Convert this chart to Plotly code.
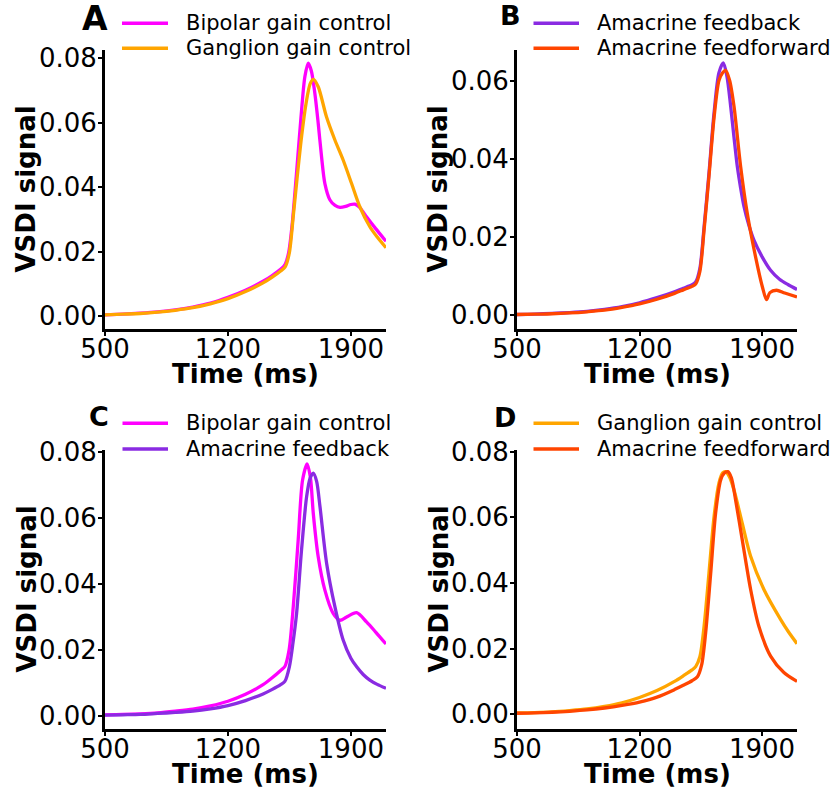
import plotly.graph_objects as go

# ---------------- data ----------------
# Panel A
a_bip_t = [500, 600, 700, 800, 900, 1000, 1100, 1200, 1300, 1400, 1450, 1500, 1525, 1545, 1565, 1590, 1615,
           1638, 1657, 1675, 1695, 1714, 1733, 1752, 1781, 1810, 1838, 1870, 1900, 1923, 1950, 1989, 2040, 2100]
a_bip_v = [0.0004, 0.0006, 0.0009, 0.0013, 0.0019, 0.0028, 0.0040, 0.0058, 0.0080, 0.0108, 0.0125, 0.0145,
           0.0160, 0.0195, 0.0280, 0.0440, 0.0610, 0.0742, 0.0784, 0.0760, 0.0690, 0.0598, 0.0494, 0.0411,
           0.0360, 0.0343, 0.0337, 0.0340, 0.0346, 0.0347, 0.0337, 0.0308, 0.0272, 0.0232]
a_gan_t = [500, 600, 700, 800, 900, 1000, 1100, 1200, 1300, 1400, 1450, 1500, 1525, 1549, 1572, 1596, 1620,
           1645, 1668, 1686, 1714, 1761, 1809, 1856, 1904, 1951, 2008, 2050, 2100]
a_gan_v = [0.0004, 0.0006, 0.0008, 0.0012, 0.0018, 0.0026, 0.0038, 0.0054, 0.0076, 0.0103, 0.0120, 0.0140,
           0.0152, 0.0194, 0.0310, 0.0440, 0.0560, 0.0660, 0.0720, 0.0734, 0.0711, 0.0618, 0.0546, 0.0484,
           0.0411, 0.0339, 0.0277, 0.0245, 0.0212]

# Panel B
b_fb_t = [500, 600, 700, 800, 900, 1000, 1100, 1200, 1300, 1400, 1450, 1500, 1521, 1545, 1569, 1597, 1626,
          1654, 1679, 1700, 1721, 1740, 1759, 1778, 1797, 1825, 1854, 1900, 1949, 2000, 2050, 2100]
b_fb_v = [0.0002, 0.0003, 0.0005, 0.0007, 0.0010, 0.0015, 0.0022, 0.0032, 0.0045, 0.0060, 0.0069, 0.0078,
          0.0085, 0.0120, 0.0226, 0.0363, 0.0517, 0.0620, 0.0645, 0.0610, 0.0534, 0.0455, 0.0380, 0.0325,
          0.0278, 0.0230, 0.0192, 0.0150, 0.0115, 0.0092, 0.0078, 0.0066]
b_ff_t = [500, 600, 700, 800, 900, 1000, 1100, 1200, 1300, 1400, 1450, 1500, 1521, 1545, 1569, 1597, 1626,
          1654, 1675, 1692, 1715, 1740, 1778, 1816, 1863, 1902, 1926, 1945, 1983, 2030, 2100]
b_ff_v = [0.0002, 0.0003, 0.0004, 0.0006, 0.0009, 0.0013, 0.0020, 0.0029, 0.0041, 0.0056, 0.0065, 0.0074,
          0.0080, 0.0112, 0.0218, 0.0355, 0.0505, 0.0600, 0.0620, 0.0626, 0.0600, 0.0534, 0.0380, 0.0260,
          0.0150, 0.0073, 0.0040, 0.0058, 0.0064, 0.0057, 0.0047]

# Panel C
c_bip_t = [500, 600, 700, 800, 900, 1000, 1100, 1200, 1300, 1400, 1450, 1500, 1524, 1548, 1572, 1600, 1625,
           1651, 1670, 1686, 1714, 1752, 1799, 1838, 1876, 1933, 1989, 2040, 2100]
c_bip_v = [0.0004, 0.0005, 0.0007, 0.0010, 0.0015, 0.0021, 0.0031, 0.0045, 0.0066, 0.0095, 0.0115, 0.0138,
           0.0150, 0.0200, 0.0331, 0.0533, 0.0714, 0.0763, 0.0720, 0.0613, 0.0482, 0.0381, 0.0311, 0.0290,
           0.0300, 0.0313, 0.0285, 0.0255, 0.0218]
c_fb_t = [500, 600, 700, 800, 900, 1000, 1100, 1200, 1300, 1400, 1450, 1500, 1524, 1550, 1570, 1591, 1619,
          1648, 1668, 1686, 1705, 1724, 1762, 1809, 1856, 1900, 1933, 1970, 2008, 2050, 2100]
c_fb_v = [0.0003, 0.0004, 0.0005, 0.0008, 0.0011, 0.0015, 0.0022, 0.0032, 0.0047, 0.0067, 0.0080, 0.0095,
          0.0105, 0.0150, 0.0220, 0.0311, 0.0502, 0.0664, 0.0720, 0.0735, 0.0710, 0.0634, 0.0462, 0.0331,
          0.0230, 0.0175, 0.0149, 0.0126, 0.0109, 0.0096, 0.0084]

# Panel D
d_gan_t = [500, 600, 700, 800, 900, 1000, 1100, 1200, 1300, 1400, 1450, 1500, 1521, 1545, 1569, 1597, 1626,
           1654, 1675, 1692, 1715, 1740, 1787, 1835, 1911, 2006, 2050, 2100]
d_gan_v = [0.0004, 0.0005, 0.0007, 0.0011, 0.0016, 0.0024, 0.0035, 0.0051, 0.0072, 0.0100, 0.0117, 0.0135,
           0.0145, 0.0175, 0.0268, 0.0430, 0.0602, 0.0704, 0.0735, 0.0739, 0.0722, 0.0683, 0.0582, 0.0481,
           0.0380, 0.0289, 0.0252, 0.0215]
d_ff_t = [500, 600, 700, 800, 900, 1000, 1100, 1200, 1300, 1400, 1450, 1500, 1531, 1555, 1578, 1607, 1635,
          1664, 1685, 1705, 1725, 1749, 1787, 1835, 1882, 1949, 2025, 2100]
d_ff_v = [0.0003, 0.0004, 0.0006, 0.0009, 0.0013, 0.0019, 0.0027, 0.0037, 0.0052, 0.0075, 0.0088, 0.0102,
          0.0114, 0.0150, 0.0248, 0.0430, 0.0613, 0.0714, 0.0735, 0.0739, 0.0720, 0.0653, 0.0532, 0.0380,
          0.0268, 0.0177, 0.0127, 0.0100]

x_ticks = [500, 1200, 1900]
y_ticks_full = [0.00, 0.02, 0.04, 0.06, 0.08]
y_ticks_b = [0.00, 0.02, 0.04, 0.06]
panel_letters = ["A", "B", "C", "D"]
x_title = "Time (ms)"
y_title = "VSDI signal"

BIP, GAN, FB, FF = "Bipolar gain control", "Ganglion gain control", "Amacrine feedback", "Amacrine feedforward"
COL = {BIP: "#FF00FF", GAN: "#FFA500", FB: "#8A2BE2", FF: "#FF4500"}

panels = [
    [(BIP, a_bip_t, a_bip_v), (GAN, a_gan_t, a_gan_v)],
    [(FB, b_fb_t, b_fb_v), (FF, b_ff_t, b_ff_v)],
    [(BIP, c_bip_t, c_bip_v), (FB, c_fb_t, c_fb_v)],
    [(GAN, d_gan_t, d_gan_v), (FF, d_ff_t, d_ff_v)],
]

# ---------------- layout geometry (pixels of 833x790 canvas) ----------------
W, H = 833, 790
def px(x):
    return x / W
def py(y):
    return 1 - y / H

boxes = [(105, 386, 50, 329), (517, 797, 50, 329), (105, 386, 450, 729), (517, 797, 450, 729)]
yranges = [[-0.004, 0.0825], [-0.0035, 0.0678], [-0.0039, 0.0805], [-0.0045, 0.0805]]
yticks = [y_ticks_full, y_ticks_b, y_ticks_full, y_ticks_full]
letter_pos = [(95, 18, 33), (510, 15.5, 27), (99, 416.5, 27), (504.5, 417, 27)]
legend_pos = [(122, 168, 184, 23.3, 48.3), (533.5, 579, 595, 23.3, 48.3),
              (122.5, 168, 184, 423.3, 449), (533.5, 579, 595, 423.3, 449)]
ytitle_x = [26, 438, 26, 438]
xtitle_y = [374, 374, 774, 774]

FONT = "DejaVu Sans"
fig = go.Figure()
layout = dict(
    template="none",
    width=W, height=H, margin=dict(l=0, r=0, t=0, b=0, autoexpand=False),
    paper_bgcolor="white", plot_bgcolor="white", showlegend=False,
    font=dict(family=FONT, color="black"),
)
annotations = []
shapes = []

for i, series in enumerate(panels):
    xa = "x" if i == 0 else f"x{i+1}"
    ya = "y" if i == 0 else f"y{i+1}"
    for name, t, v in series:
        fig.add_trace(go.Scatter(x=t, y=v, mode="lines", name=name, xaxis=xa, yaxis=ya,
                                 line=dict(color=COL[name], width=3.3, shape="spline", smoothing=0.8)))
    x0, x1, y0, y1 = boxes[i]
    xkey = "xaxis" if i == 0 else f"xaxis{i+1}"
    ykey = "yaxis" if i == 0 else f"yaxis{i+1}"
    layout[xkey] = dict(
        domain=[px(x0), px(x1)], range=[500, 2100], anchor=ya, automargin=False,
        tickvals=x_ticks, ticktext=[str(t) for t in x_ticks],
        showline=True, linecolor="black", linewidth=3, mirror=False,
        ticks="outside", ticklen=4, tickwidth=2, tickcolor="black", ticklabelstandoff=-9,
        showgrid=False, zeroline=False,
        tickfont=dict(family=FONT, size=26, color="black"),
    )
    layout[ykey] = dict(
        domain=[py(y1), py(y0)], range=yranges[i], anchor=xa, automargin=False,
        tickvals=yticks[i], ticktext=[f"{v:.2f}" for v in yticks[i]],
        showline=True, linecolor="black", linewidth=3, mirror=False,
        ticks="outside", ticklen=4, tickwidth=2, tickcolor="black", ticklabelstandoff=-4,
        showgrid=False, zeroline=False,
        tickfont=dict(family=FONT, size=26, color="black"),
    )
    # axis titles
    annotations.append(dict(text=f"<b>{x_title}</b>", x=px((x0 + x1) / 2), y=py(xtitle_y[i]),
                            xref="paper", yref="paper", xanchor="center", yanchor="middle", showarrow=False,
                            font=dict(family=FONT, size=26, color="black")))
    annotations.append(dict(text=f"<b>{y_title}</b>", x=px(ytitle_x[i]), y=py((y0 + y1) / 2), textangle=-90,
                            xref="paper", yref="paper", xanchor="center", yanchor="middle", showarrow=False,
                            font=dict(family=FONT, size=26, color="black")))
    # panel letter
    lx, ly, lsize = letter_pos[i]
    annotations.append(dict(text=f"<b>{panel_letters[i]}</b>", x=px(lx), y=py(ly), xref="paper", yref="paper",
                            xanchor="center", yanchor="middle", showarrow=False,
                            font=dict(family=FONT, size=lsize, color="black")))
    # legend (line samples + labels)
    lx0, lx1, tx, r1, r2 = legend_pos[i]
    for (name, _, _), ry in zip(series, [r1, r2]):
        shapes.append(dict(type="line", xref="paper", yref="paper", x0=px(lx0), x1=px(lx1), y0=py(ry), y1=py(ry),
                           line=dict(color=COL[name], width=3.5)))
        annotations.append(dict(text=name, x=px(tx), y=py(ry), xref="paper", yref="paper",
                                xanchor="left", yanchor="middle", showarrow=False,
                                font=dict(family=FONT, size=21, color="black")))

layout["annotations"] = annotations
layout["shapes"] = shapes
fig.update_layout(**layout)
fig.write_html("out.html")
